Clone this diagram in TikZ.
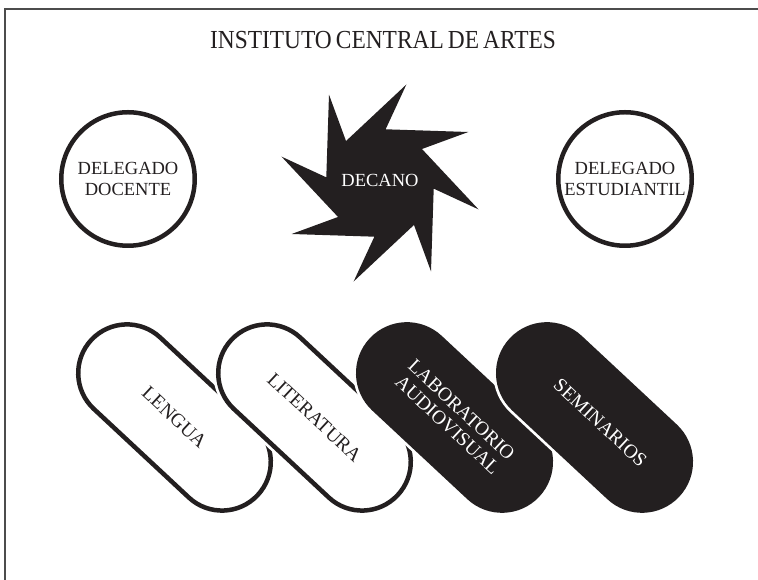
\documentclass[tikz,border=0pt]{standalone}
\usepackage{fontspec}
\setmainfont{Liberation Serif}
\newfontfamily\titlefont[FakeStretch=0.9, WordSpace=0.7]{Liberation Serif}
\usetikzlibrary{shapes.misc}
\definecolor{ink}{RGB}{35,31,32}
\begin{document}
\begin{tikzpicture}[x=1pt,y=1pt,
  titletext/.style={font=\titlefont\fontsize{26}{28}\selectfont, text=ink, inner sep=0pt},
  circ/.style={circle, draw=ink, line width=4.5pt, minimum size=133.5pt, inner sep=0pt,
    align=center, font=\fontsize{18.5}{20.5}\selectfont, text=ink},
  pillw/.style={rounded rectangle, draw=ink, fill=white, line width=4.5pt,
    minimum width=227.5pt, minimum height=97.5pt, inner sep=0pt, rotate=-43,
    align=center, font=\fontsize{19.5}{20.5}\selectfont, text=ink,
    preaction={draw=white, line width=10pt}},
  pillb/.style={pillw, fill=ink, text=white},
  frame/.style={line width=1.2pt, black!70}
  ]
\useasboundingbox (0,0) rectangle (758,580);
\coordinate (fbl) at (5,0);
\coordinate (ftl) at (5,571);
\coordinate (ftr) at (758,571);
\draw[frame] (fbl) -- (ftl) -- (ftr);

\node[titletext] (title) at (383,540) {INSTITUTO CENTRAL DE ARTES};

\node[circ] (docente) at (128,401) {DELEGADO\\DOCENTE};
\node[circ] (estudiantil) at (625,401) {DELEGADO\\ESTUDIANTIL};

\begin{scope}[shift={(380,397)}]
  \fill[ink] (120:102) \foreach \k in {0,...,7} { -- ({120-45*\k}:102) -- ({129-45*\k}:54) } -- cycle;
\end{scope}
\node[font=\fontsize{18.5}{20}\selectfont, text=white] (decano) at (380,400) {DECANO};

\node[pillw] (lengua) at (174.5,162.5) {LENGUA};
\node[pillw] (literatura) at (314.5,162.5) {LITERATURA};
\node[pillb] (lab) at (454.5,162.5) {LABORATORIO\\AUDIOVISUAL};
\node[pillb] (seminarios) at (594.5,162.5) {\hspace{16pt}SEMINARIOS};
\end{tikzpicture}
\end{document}
